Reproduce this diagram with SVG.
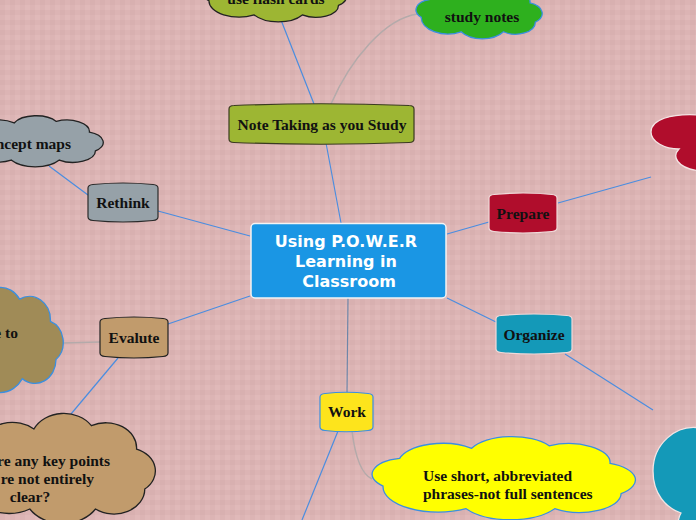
<svg xmlns="http://www.w3.org/2000/svg" xmlns:xlink="http://www.w3.org/1999/xlink" width="696" height="520" viewBox="0 0 696 520">
<style>
.bg{fill:url(#plaid)}
.conn{fill:none;stroke:#4a8de0;stroke-width:1.2}
.conn.gray{stroke:#b4aaaa;stroke-width:1.5}
.node path{stroke-width:1.2}
.lbl{font-family:"Liberation Serif","Times New Roman",serif;font-weight:bold;font-size:15.5px;fill:#111;text-anchor:middle}
.ctr{font-family:"DejaVu Sans",Verdana,sans-serif;font-weight:bold;font-size:16px;fill:#fff;text-anchor:middle}
.cl{stroke-width:1.3}
</style>
<defs>
<pattern id="plaid" width="10" height="10" patternUnits="userSpaceOnUse">
<rect width="10" height="10" fill="#e0b9b9"/>
<rect width="5" height="10" fill="#c99b9b" opacity="0.18"/>
<rect width="10" height="5" fill="#c99b9b" opacity="0.18"/>
</pattern>
<path id="cloud" vector-effect="non-scaling-stroke" d="M8,38 A13,13 0 0 1 14,16 A16,16 0 0 1 40,8 A16,16 0 0 1 68,6 A15,15 0 0 1 90,20 A14,14 0 0 1 94,44 A15,15 0 0 1 70,56 A19,19 0 0 1 38,56 A20,20 0 0 1 8,38 Z"/>
</defs>
<rect class="bg" width="696" height="520"/>

<g id="connectors">
<line class="conn" x1="341" y1="223" x2="326" y2="143"/>
<line class="conn" x1="314" y1="104" x2="281" y2="20"/>
<path class="conn gray" d="M331,104 C350,60 385,18 418,14"/>
<line class="conn" x1="250" y1="236" x2="158" y2="211"/>
<line class="conn" x1="88" y1="195" x2="49" y2="166"/>
<line class="conn" x1="447" y1="234" x2="489" y2="222"/>
<line class="conn" x1="558" y1="203" x2="651" y2="177"/>
<line class="conn" x1="447" y1="298" x2="496" y2="322"/>
<line class="conn" x1="565" y1="354" x2="653" y2="410"/>
<line class="conn" x1="348" y1="298" x2="347" y2="393" style="stroke:#6f86a8"/>
<line class="conn" x1="338" y1="431" x2="302" y2="520"/>
<path class="conn gray" d="M352,431 Q357,472 372,479"/>
<line class="conn" x1="250" y1="296" x2="168" y2="324"/>
<line class="conn gray" x1="100" y1="342" x2="63" y2="343"/>
<line class="conn" x1="118" y1="358" x2="71" y2="414"/>
</g>

<g id="cloud-flash">
<use xlink:href="#cloud" class="cl" fill="#9db633" stroke="#222" transform="translate(196.98,-29.21) scale(1.505,0.788)"/>
<text class="lbl" x="276" y="4">use flash cards</text>
</g>
<g id="cloud-study">
<use xlink:href="#cloud" class="cl" fill="#2eb01e" stroke="#3b8fe0" transform="translate(410.7,-13.2) scale(1.326,0.803)"/>
<text class="lbl" x="482" y="22">study notes</text>
</g>
<g id="cloud-concept">
<use xlink:href="#cloud" class="cl" fill="#96a1a8" stroke="#222" transform="translate(-46.02,116.77) scale(1.505,0.773)"/>
<text class="lbl" x="71" y="149" style="text-anchor:end">ncept maps</text>
</g>
<g id="cloud-olive">
<use xlink:href="#cloud" class="cl" fill="#a08b57" stroke="#3b8fe0" transform="translate(-75.6,289.59) scale(1.4,1.591)"/>
<text class="lbl" x="18" y="338" style="text-anchor:end">e to</text>
</g>
<g id="cloud-keypoints">
<use xlink:href="#cloud" class="cl" fill="#c19b6c" stroke="#222" transform="translate(-48.21,415.67) scale(2.053,1.667)"/>
<text class="lbl" x="110" y="466" style="text-anchor:end">re any key points</text>
<text class="lbl" x="94" y="484" style="text-anchor:end">re not entirely</text>
<text class="lbl" x="30" y="502">clear?</text>
</g>
<g id="cloud-red">
<path class="cl" fill="#b00d2c" stroke="#f4e4e4" d="M700,115 C670,113 651,120 651,132 C651,142 665,149 679,149 C672,156 676,168 700,171 Z"/>
</g>
<g id="cloud-teal">
<path class="cl" fill="#1499b8" stroke="#f4e4e4" d="M700,428 C676,424 653,444 653,471 C653,494 666,508 681,513 C678,518 678,522 678,525 L700,525 Z"/>
</g>
<g id="cloud-short">
<use xlink:href="#cloud" class="cl" fill="#ffff00" stroke="#3b8fe0" transform="translate(360.93,438.26) scale(2.768,1.258)"/>
<text class="lbl" x="423" y="481" style="text-anchor:start">Use short, abbreviated</text>
<text class="lbl" x="423" y="499" style="text-anchor:start">phrases-not full sentences</text>
</g>

<g id="center" class="node">
<rect x="251" y="223.5" width="195" height="74.5" rx="4" fill="#1a96e4" stroke="#f4f4f4" stroke-width="1.5"/>
<text class="ctr" x="346" y="247">Using P.O.W.E.R</text>
<text class="ctr" x="346" y="267">Learning in</text>
<text class="ctr" x="349" y="287">Classroom</text>
</g>
<g id="note-taking" class="node">
<path d="M229,109 Q229,105.5 234,105.5 Q321,102 409,105.5 Q414,105.5 414,109 L414,139 Q414,142.5 409,142.5 Q321,146 234,142.5 Q229,142.5 229,139 Z" fill="#9db633" stroke="#3a3a20"/>
<text class="lbl" x="322" y="130">Note Taking as you Study</text>
</g>
<g id="rethink" class="node">
<path d="M88,188 Q88,185 93,184.5 Q123,181.5 153,184.5 Q158,185 158,188 L158,217 Q158,220 153,220.5 Q123,223.5 93,220.5 Q88,220 88,217 Z" fill="#96a1a8" stroke="#2a2a2a"/>
<text class="lbl" x="123" y="208">Rethink</text>
</g>
<g id="prepare" class="node">
<path d="M489,198 Q489,195 494,194.5 Q523,191.5 552,194.5 Q557,195 557,198 L557,228 Q557,231 552,231.5 Q523,234.5 494,231.5 Q489,231 489,228 Z" fill="#b00d2c" stroke="#f0dada"/>
<text class="lbl" x="523" y="219">Prepare</text>
</g>
<g id="organize" class="node">
<path d="M496,319 Q496,316 501,315.5 Q534,312.5 567,315.5 Q572,316 572,319 L572,349 Q572,352 567,352.5 Q534,355.5 501,352.5 Q496,352 496,349 Z" fill="#1499b8" stroke="#f0dada"/>
<text class="lbl" x="534" y="340">Organize</text>
</g>
<g id="work" class="node">
<path d="M320,397 Q320,394 325,393.5 Q346,391 368,393.5 Q373,394 373,397 L373,427 Q373,430 368,430.5 Q346,433 325,430.5 Q320,430 320,427 Z" fill="#fde41c" stroke="#3b8fe0"/>
<text class="lbl" x="347" y="417">Work</text>
</g>
<g id="evalute" class="node">
<path d="M100,322 Q100,319 105,318.5 Q134,315.5 163,318.5 Q168,319 168,322 L168,353 Q168,356 163,356.5 Q134,359.5 105,356.5 Q100,356 100,353 Z" fill="#c19b6c" stroke="#222"/>
<text class="lbl" x="134" y="343">Evalute</text>
</g>
</svg>
